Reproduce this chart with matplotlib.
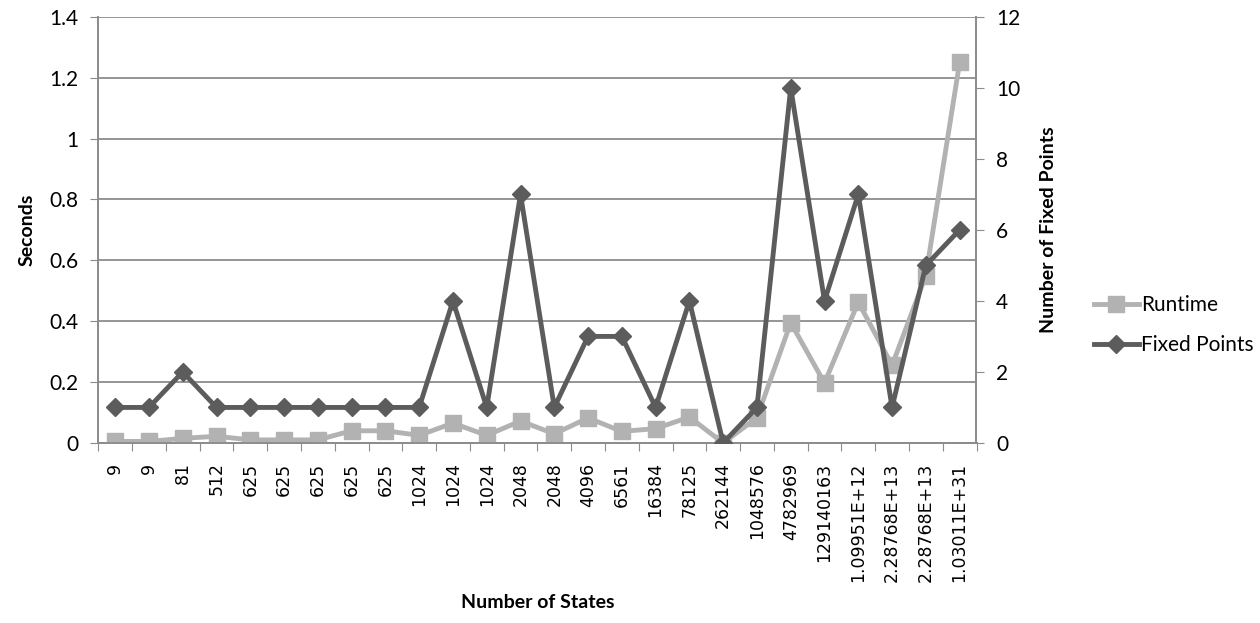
import matplotlib
matplotlib.use("Agg")
import matplotlib.pyplot as plt

states = ["9", "9", "81", "512", "625", "625", "625", "625", "625", "1024", "1024", "1024",
          "2048", "2048", "4096", "6561", "16384", "78125", "262144", "1048576", "4782969",
          "129140163", "1.09951E+12", "2.28768E+13", "2.28768E+13", "1.03011E+31"]
runtime = [0.005, 0.005, 0.015, 0.022, 0.01, 0.01, 0.01, 0.04, 0.04, 0.025, 0.065, 0.025,
           0.072, 0.03, 0.082, 0.038, 0.047, 0.085, 0.0, 0.083, 0.395, 0.197, 0.463, 0.255,
           0.55, 1.25]
fixed_points = [1, 1, 2, 1, 1, 1, 1, 1, 1, 1, 4, 1, 7, 1, 3, 3, 1, 4, 0, 1, 10, 4, 7, 1, 5, 6]

plt.rcParams['font.family'] = ['Lato', 'DejaVu Sans']

fig = plt.figure(figsize=(12.6, 6.23), dpi=100)
ax = fig.add_axes([0.078, 0.289, 0.697, 0.684])
ax2 = ax.twinx()

x = list(range(len(states)))
light = '#b2b2b2'
dark = '#5c5c5c'
grid_c = '#8c8c8c'

l1, = ax.plot(x, runtime, color=light, lw=3.5, marker='s', ms=11, zorder=3, label='Runtime')
l2, = ax2.plot(x, fixed_points, color=dark, lw=3.5, marker='D', ms=9, zorder=4, label='Fixed Points')

ax.set_ylim(0, 1.4)
ax.set_yticks([0, 0.2, 0.4, 0.6, 0.8, 1, 1.2, 1.4])
ax.set_yticklabels(['0', '0.2', '0.4', '0.6', '0.8', '1', '1.2', '1.4'], fontsize=15)
ax2.set_ylim(0, 12)
ax2.set_yticks(range(0, 13, 2))
ax2.set_yticklabels([str(v) for v in range(0, 13, 2)], fontsize=15)
ax.set_xlim(-0.5, len(states) - 0.5)
ax.set_xticks([i - 0.5 for i in range(len(states) + 1)], minor=False)
ax.set_xticklabels([])
ax.set_xticks(x, minor=True)
ax.set_xticklabels(states, minor=True, rotation=90, fontsize=12.5, family='DejaVu Sans')
ax.tick_params(axis='x', which='minor', length=0, pad=14)
ax.tick_params(axis='x', which='major', length=6, color=grid_c, direction='out')
ax.tick_params(axis='y', length=6, color=grid_c, pad=8)
ax2.tick_params(axis='y', length=6, color=grid_c, pad=8)

ax.grid(axis='y', color=grid_c, lw=1.3)
ax.set_axisbelow(True)
for a in (ax, ax2):
    a.spines['top'].set_visible(False)
    for s in ('left', 'right', 'bottom'):
        a.spines[s].set_color(grid_c)
        a.spines[s].set_linewidth(1.3)

ax.set_ylabel('Seconds', fontsize=14, fontweight='bold', labelpad=10)
ax2.set_ylabel('Number of Fixed Points', fontsize=14, fontweight='bold', labelpad=14)
fig.text(0.427, 1 - 603 / 623, 'Number of States', fontsize=14, fontweight='bold',
         ha='center', va='center')

fig.legend(handles=[l1, l2], loc='center left', bbox_to_anchor=(0.853, 0.478),
           frameon=False, fontsize=15, handlelength=2.2, handletextpad=0.1, labelspacing=0.95)

fig.savefig('out.png', dpi=100)
